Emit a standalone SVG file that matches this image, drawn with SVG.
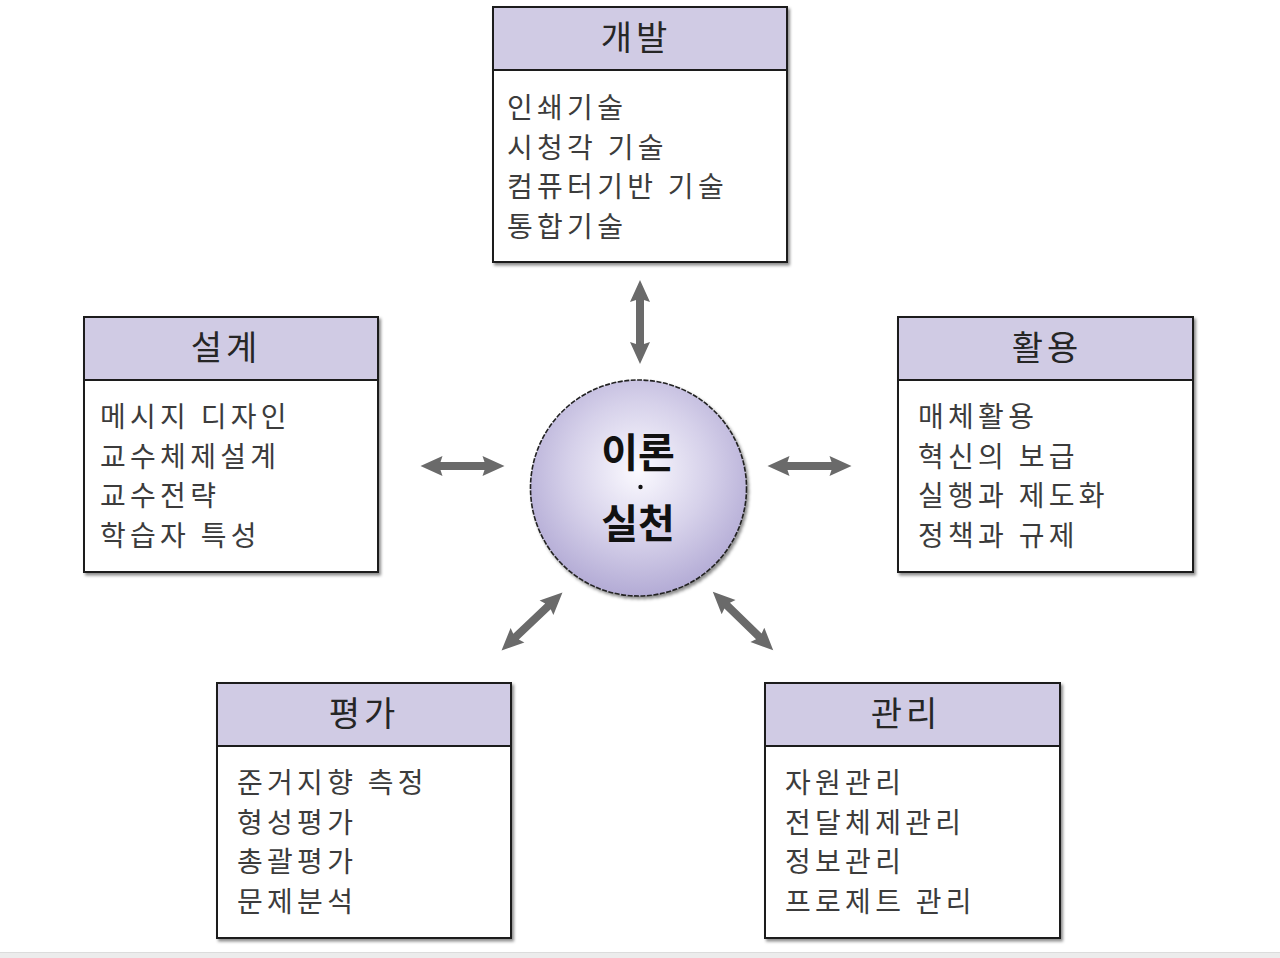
<svg xmlns="http://www.w3.org/2000/svg" xmlns:xlink="http://www.w3.org/1999/xlink" width="1280" height="958" viewBox="0 0 1280 958">
<style>
  .box { fill: #ffffff; stroke: #1a1a1a; stroke-width: 2; }
  .head { fill: #d0cbe4; stroke: #1a1a1a; stroke-width: 2; }
  .title { font-family: "Noto Sans CJK KR", "Noto Sans", sans-serif; font-size: 34px; fill: #262626; text-anchor: middle; letter-spacing: 4px; }
  .item { font-family: "Noto Sans CJK KR", "Noto Sans", sans-serif; font-size: 28px; fill: #3c3c3c; letter-spacing: 4.3px; }
  .center { font-family: "Noto Sans CJK KR", "Noto Sans", sans-serif; font-size: 40px; font-weight: bold; fill: #111; text-anchor: middle; }
  .arrow { fill: #6a6a6a; }
</style>
<defs>
  <filter id="sh" x="-10%" y="-10%" width="125%" height="125%">
    <feDropShadow dx="2" dy="2.5" stdDeviation="1.5" flood-color="#000" flood-opacity="0.45"/>
  </filter>
  <radialGradient id="cg" cx="0.5" cy="0.42" r="0.58">
    <stop offset="0" stop-color="#fbfaff"/>
    <stop offset="0.55" stop-color="#d6d1ea"/>
    <stop offset="1" stop-color="#b3abd5"/>
  </radialGradient>
  <path id="dbl" class="arrow" d="M -42 0 L -20 -10 L -22 -4 L 22 -4 L 20 -10 L 42 0 L 20 10 L 22 4 L -22 4 L -20 10 Z"/>
</defs>
<rect x="0" y="0" width="1280" height="958" fill="#ffffff"/>

<g id="connectors">
  <use xlink:href="#dbl" href="#dbl" transform="translate(640,322) rotate(90)"/>
  <use xlink:href="#dbl" href="#dbl" transform="translate(462.5,466)"/>
  <use xlink:href="#dbl" href="#dbl" transform="translate(809.5,466)"/>
  <use xlink:href="#dbl" href="#dbl" transform="translate(532,621.5) rotate(-43.5)"/>
  <use xlink:href="#dbl" href="#dbl" transform="translate(743,621) rotate(44)"/>
</g>

<g id="node-center">
  <circle cx="638.5" cy="488" r="108" fill="url(#cg)" stroke="#222" stroke-width="1.6" stroke-dasharray="5 1.5" filter="url(#sh)"/>
  <text class="center" x="638" y="467">이론</text>
  <circle cx="640.5" cy="487" r="2.2" fill="#111"/>
  <text class="center" x="638" y="538">실천</text>
</g>

<g id="node-dev">
  <g filter="url(#sh)">
    <rect class="box" x="493" y="7" width="294" height="255"/>
    <rect class="head" x="493" y="7" width="294" height="63"/>
  </g>
  <text class="title" x="636" y="50">개발</text>
  <text class="item" x="507" y="118">인쇄기술</text>
  <text class="item" x="507" y="157.5">시청각 기술</text>
  <text class="item" x="507" y="197">컴퓨터기반 기술</text>
  <text class="item" x="507" y="236.5">통합기술</text>
</g>

<g id="node-design">
  <g filter="url(#sh)">
    <rect class="box" x="84" y="317" width="294" height="255"/>
    <rect class="head" x="84" y="317" width="294" height="63"/>
  </g>
  <text class="title" x="226" y="360">설계</text>
  <text class="item" x="100" y="427">메시지 디자인</text>
  <text class="item" x="100" y="466.5">교수체제설계</text>
  <text class="item" x="100" y="506">교수전략</text>
  <text class="item" x="100" y="545.5">학습자 특성</text>
</g>

<g id="node-use">
  <g filter="url(#sh)">
    <rect class="box" x="898" y="317" width="295" height="255"/>
    <rect class="head" x="898" y="317" width="295" height="63"/>
  </g>
  <text class="title" x="1047" y="360">활용</text>
  <text class="item" x="918" y="427">매체활용</text>
  <text class="item" x="918" y="466.5">혁신의 보급</text>
  <text class="item" x="918" y="506">실행과 제도화</text>
  <text class="item" x="918" y="545.5">정책과 규제</text>
</g>

<g id="node-eval">
  <g filter="url(#sh)">
    <rect class="box" x="217" y="683" width="294" height="255"/>
    <rect class="head" x="217" y="683" width="294" height="63"/>
  </g>
  <text class="title" x="364" y="726">평가</text>
  <text class="item" x="237" y="793">준거지향 측정</text>
  <text class="item" x="237" y="832.5">형성평가</text>
  <text class="item" x="237" y="872">총괄평가</text>
  <text class="item" x="237" y="911.5">문제분석</text>
</g>

<g id="node-manage">
  <g filter="url(#sh)">
    <rect class="box" x="765" y="683" width="295" height="255"/>
    <rect class="head" x="765" y="683" width="295" height="63"/>
  </g>
  <text class="title" x="906" y="726">관리</text>
  <text class="item" x="785" y="793">자원관리</text>
  <text class="item" x="785" y="832.5">전달체제관리</text>
  <text class="item" x="785" y="872">정보관리</text>
  <text class="item" x="785" y="911.5">프로제트 관리</text>
</g>

<rect x="0" y="952" width="1280" height="6" fill="#ececec"/>
<line x1="0" y1="952.5" x2="1280" y2="952.5" stroke="#dcdcdc" stroke-width="1"/>
</svg>
